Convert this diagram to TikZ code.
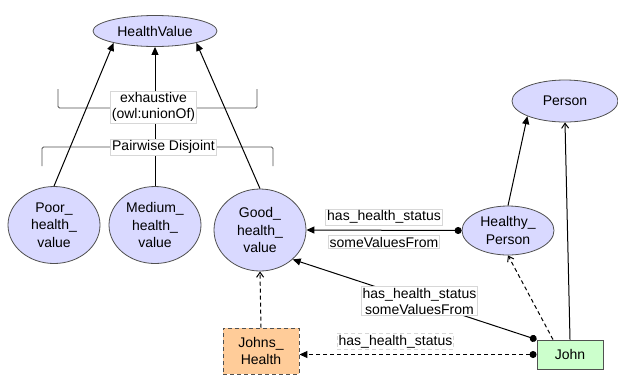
\documentclass[tikz,border=0pt]{standalone}
\usepackage{fontspec}
\setmainfont{Liberation Sans}
\usetikzlibrary{arrows.meta,shapes.geometric}
\definecolor{classfill}{RGB}{217,217,255}
\definecolor{indivfill}{RGB}{255,204,153}
\definecolor{johnfill}{RGB}{204,255,204}
\definecolor{edgegray}{RGB}{80,80,80}
\definecolor{boxgray}{RGB}{215,215,215}
\tikzset{
  every node/.style={font=\fontsize{14}{17.5}\selectfont, text=black},
  cls/.style={ellipse, draw=edgegray, line width=0.8pt, fill=classfill, inner sep=0pt, align=center},
  indiv/.style={rectangle, draw=edgegray, line width=0.9pt, inner sep=0pt, align=center},
  lbl/.style={rectangle, draw=boxgray, fill=white, inner sep=1.5pt, align=center,
              font=\fontsize{14}{16}\selectfont},
  bracket/.style={draw=edgegray, line width=0.9pt, rounded corners=1.5pt},
  isa/.style={draw=black, line width=1pt, -{Triangle[length=8pt,width=7pt]}},
  inst/.style={draw=black, line width=1pt, dash pattern=on 4pt off 3pt, -{Straight Barb[length=5pt,width=7pt]}},
  prop/.style={draw=black, line width=1pt, {Circle[length=7pt]}-{Triangle[length=8pt,width=7pt]}},
  dprop/.style={draw=black, line width=1pt, dash pattern=on 4pt off 3pt, {Circle[length=7pt]}-{Triangle[length=8pt,width=7pt]}},
  openisa/.style={draw=black, line width=1pt, -{Straight Barb[length=5pt,width=7pt]}},
}
\begin{document}
\begin{tikzpicture}[x=1pt, y=-1pt]
\useasboundingbox (0,0) rectangle (618,376);

% classes
\node[cls, minimum width=124pt, minimum height=31pt] (hv) at (155,31) {HealthValue};
\node[cls, minimum width=92pt, minimum height=77pt] (poor) at (54,225) {Poor\_\\health\_\\value};
\node[cls, minimum width=92pt, minimum height=77pt] (medium) at (155,225) {Medium\_\\health\_\\value};
\node[cls, minimum width=92pt, minimum height=82pt] (good) at (260,230) {Good\_\\health\_\\value};
\node[cls, minimum width=92pt, minimum height=49pt] (hp) at (508,230.5) {Healthy\_\\Person};
\node[cls, minimum width=106pt, minimum height=42pt] (person) at (565,101) {Person};

% individuals
\node[indiv, fill=indivfill, dash pattern=on 4pt off 3pt,
      minimum width=76pt, minimum height=46pt] (jh) at (261,351) {Johns\_\\Health};
\node[indiv, fill=johnfill, minimum width=66pt, minimum height=29pt] (john) at (570,354.5) {John};

% covering / disjointness brackets
\draw[bracket] (58,89) -- (58,108) -- (257,108) -- (257,89);
\draw[bracket] (42,166) -- (42,147) -- (273,147) -- (273,166);

% subclass links
\draw[isa] (poor.north) -- (hv.196);
\draw[isa] (medium.north) -- (hv.south);
\draw[isa] (good.north) -- (hv.344);
\draw[isa] (hp.north) -- (person.202);
\draw[openisa] (john.north) -- (person.south);

% bracket labels
\node[lbl] (exh) at (153.5,107) {exhaustive\\(owl:unionOf)};
\node[lbl] (pd) at (163.5,147) {Pairwise Disjoint};

% property restrictions and assertions
\draw[prop] (hp.west) -- (good.east)
  node[lbl, pos=0.5, yshift=13pt] (r1a) {has\_health\_status}
  node[lbl, pos=0.5, yshift=-12pt] (r1b) {someValuesFrom};
\draw[prop] (john.north west) -- (good.318)
  node[lbl, pos=0.48] (r2) {has\_health\_status\\someValuesFrom};
\draw[dprop] (john.west) -- (john.west -| jh.east)
  node[lbl, pos=0.595, yshift=13pt] (r3) {has\_health\_status};

% type links
\draw[inst] ([xshift=-17pt]john.north) -- (hp.south);
\draw[inst] (jh.north) -- (good.south);
\end{tikzpicture}
\end{document}
